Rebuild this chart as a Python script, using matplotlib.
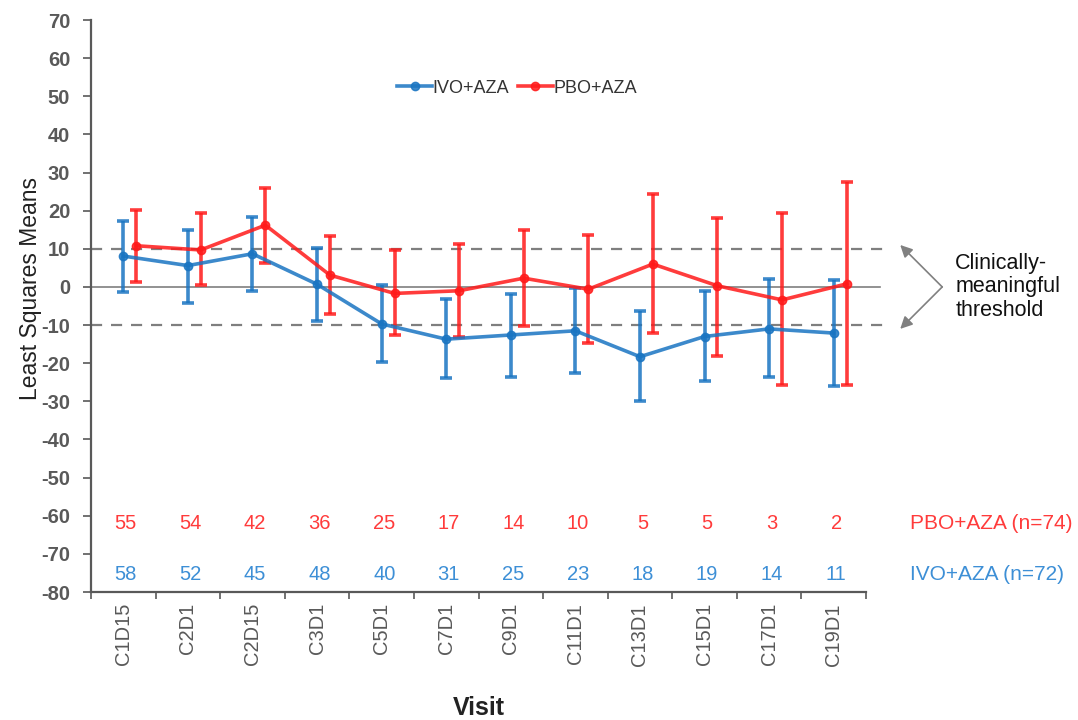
import numpy as np
import matplotlib.pyplot as plt
from matplotlib.lines import Line2D

plt.rcParams['font.family'] = ['Liberation Sans', 'DejaVu Sans']

visits = ["C1D15", "C2D1", "C2D15", "C3D1", "C5D1", "C7D1",
          "C9D1", "C11D1", "C13D1", "C15D1", "C17D1", "C19D1"]

# least squares means with lower / upper CI bounds
ivo_mean = [8.1, 5.6, 8.7, 0.7, -9.7, -13.7, -12.6, -11.5, -18.3, -13.0, -11.0, -12.1]
ivo_low = [-1.4, -4.1, -1.0, -9.0, -19.6, -24.0, -23.7, -22.6, -29.8, -24.7, -23.7, -26.1]
ivo_high = [17.4, 15.0, 18.4, 10.3, 0.5, -3.1, -1.8, -0.3, -6.2, -1.1, 2.2, 1.7]

pbo_mean = [10.8, 9.7, 16.2, 3.1, -1.7, -1.0, 2.3, -0.6, 6.0, 0.3, -3.4, 0.8]
pbo_low = [1.4, 0.4, 6.4, -7.2, -12.6, -13.1, -10.2, -14.7, -12.0, -18.2, -25.8, -25.8]
pbo_high = [20.2, 19.3, 26.0, 13.4, 9.7, 11.3, 15.0, 13.6, 24.3, 18.1, 19.3, 27.6]

pbo_n = [55, 54, 42, 36, 25, 17, 14, 10, 5, 5, 3, 2]
ivo_n = [58, 52, 45, 48, 40, 31, 25, 23, 18, 19, 14, 11]

blue = "#1a75c2"
red = "#ff1a1a"
blue_txt = "#3d8fd6"
red_txt = "#ff3b3b"
gray = "#595959"

x = np.arange(len(visits))
ivo_mean = np.array(ivo_mean)
pbo_mean = np.array(pbo_mean)
ivo_err = [ivo_mean - np.array(ivo_low), np.array(ivo_high) - ivo_mean]
pbo_err = [pbo_mean - np.array(pbo_low), np.array(pbo_high) - pbo_mean]

fig = plt.figure(figsize=(10.78, 7.2), dpi=100)
ax = fig.add_axes([91 / 1078, 1 - 592 / 720, 775 / 1078, 572 / 720])

# reference lines, drawn a bit past the right end of the axis
ax.plot([-0.5, 11.72], [0, 0], color="#7f7f7f", lw=1.2, clip_on=False, zorder=1)
for yv in (10, -10):
    ax.plot([-0.5, 11.76], [yv, yv], color="#7f7f7f", lw=1.6, ls=(0, (5, 4)),
            clip_on=False, zorder=1)

ax.errorbar(x, ivo_mean, yerr=ivo_err, color=blue, lw=2.6, marker="o", ms=6,
            elinewidth=2.6, capsize=4, capthick=2.6, alpha=0.85, zorder=3)
ax.errorbar(x + 0.2, pbo_mean, yerr=pbo_err, color=red, lw=2.6, marker="o", ms=6,
            elinewidth=2.6, capsize=4, capthick=2.6, alpha=0.85, zorder=3)

for i in range(len(visits)):
    ax.text(x[i] + 0.04, -62, str(pbo_n[i]), color=red_txt, fontsize=14.5,
            ha="center", va="center")
    ax.text(x[i] + 0.04, -75.5, str(ivo_n[i]), color=blue_txt, fontsize=14.5,
            ha="center", va="center")
ax.text(12.18, -62, "PBO+AZA (n=74)", color=red_txt, fontsize=15, ha="left",
        va="center", clip_on=False)
ax.text(12.18, -75.5, "IVO+AZA (n=72)", color=blue_txt, fontsize=15, ha="left",
        va="center", clip_on=False)

# threshold annotation
for yv in (11, -11):
    ax.annotate("", xy=(12.03, yv), xytext=(12.68, 0),
                arrowprops=dict(arrowstyle="-|>", color="#808080", lw=1.2,
                                mutation_scale=18, shrinkA=0, shrinkB=0),
                annotation_clip=False)
ax.text(12.88, 0, "Clinically-\nmeaningful\nthreshold", fontsize=15.5, ha="left",
        va="center", linespacing=1.15, color="#111111", clip_on=False)

ax.set_xlim(-0.5, 11.5)
ax.set_ylim(-80, 70)
ax.set_yticks(np.arange(-80, 71, 10))
ax.set_yticklabels([str(v) for v in range(-80, 71, 10)], fontsize=14.5,
                   fontweight="bold", color=gray)
ax.set_xticks(x)
ax.set_xticklabels(visits, rotation=90, fontsize=14.5, color=gray)
ax.set_xticks(np.arange(-0.5, 12, 1), minor=True)
ax.tick_params(axis="x", which="major", length=0, pad=8)
ax.tick_params(axis="x", which="minor", length=5, width=1.2, color=gray)
ax.tick_params(axis="y", length=6, width=1.2, color=gray, pad=9)

for side in ("top", "right"):
    ax.spines[side].set_visible(False)
for side in ("left", "bottom"):
    ax.spines[side].set_color(gray)
    ax.spines[side].set_linewidth(1.6)

ax.set_ylabel("Least Squares Means", fontsize=16.5, color="#222222")
ax.yaxis.set_label_coords(-0.063, 0.53)
ax.set_xlabel("Visit", fontsize=18, fontweight="bold", color="#222222", labelpad=22)

handles = [Line2D([], [], color=blue, lw=2.6, marker="o", ms=6, alpha=0.85),
           Line2D([], [], color=red, lw=2.6, marker="o", ms=6, alpha=0.85)]
ax.legend(handles, ["IVO+AZA", "PBO+AZA"], loc="center",
          bbox_to_anchor=(0.55, 0.881), ncol=2, frameon=False,
          fontsize=13, handlelength=1.9, columnspacing=0.5, handletextpad=0.05,
          labelcolor="#333333")

fig.savefig("out.png", dpi=100)
